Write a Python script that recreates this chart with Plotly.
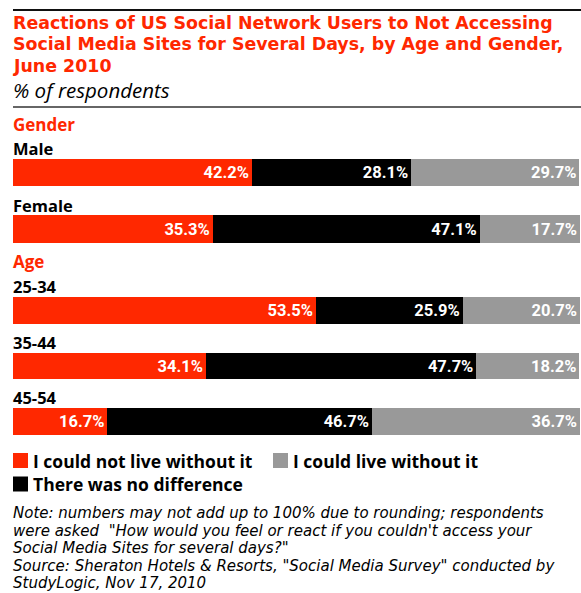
import plotly.graph_objects as go

# Survey data: share of respondents by reaction
gender_groups = ["Male", "Female"]
age_groups = ["25-34", "35-44", "45-54"]

could_not_live_gender = [42.2, 35.3]
no_difference_gender = [28.1, 47.1]
could_live_gender = [29.7, 17.7]

could_not_live_age = [53.5, 34.1, 16.7]
no_difference_age = [25.9, 47.7, 46.7]
could_live_age = [20.7, 18.2, 36.7]

series_names = ["I could not live without it", "There was no difference", "I could live without it"]

title_lines = [
    "Reactions of US Social Network Users to Not Accessing",
    "Social Media Sites for Several Days, by Age and Gender,",
    "June 2010",
]
subtitle = "% of respondents"
note_lines = [
    "Note: numbers may not add up to 100% due to rounding; respondents",
    "were asked  \"How would you feel or react if you couldn't access your",
    "Social Media Sites for several days?\"",
    "Source: Sheraton Hotels & Resorts, \"Social Media Survey\" conducted by",
    "StudyLogic, Nov 17, 2010",
]

RED = "#FF2800"
BLACK = "#000000"
GREY = "#999999"
colors = [RED, BLACK, GREY]

W, H = 581, 593
HEAD_FONT = "Open Sans"
TITLE_FONT = "DejaVu Sans"
VALUE_FONT = "Roboto"


def px_x(p):
    return p / W


def px_y(p):
    return 1 - p / H


fig = go.Figure()

panels = [
    ("x", "y", gender_groups, [could_not_live_gender, no_difference_gender, could_live_gender]),
    ("x2", "y2", age_groups, [could_not_live_age, no_difference_age, could_live_age]),
]
for xa, ya, cats, series in panels:
    for name, vals, col in zip(series_names, series, colors):
        fig.add_trace(go.Bar(
            x=vals, y=cats, orientation="h", name=name,
            marker=dict(color=col, line=dict(width=0)),
            text=[f"{v:.1f}%" for v in vals],
            textposition="inside", insidetextanchor="end", textangle=0,
            textfont=dict(family=VALUE_FONT, size=16.5, color="white", weight="bold"),
            xaxis=xa, yaxis=ya, showlegend=False, hoverinfo="skip",
        ))

x_dom = [px_x(12.7), px_x(580)]
fig.update_layout(
    width=W, height=H, autosize=False,
    margin=dict(l=0, r=0, t=0, b=0),
    paper_bgcolor="white", plot_bgcolor="white",
    barmode="stack", bargap=0.515,
    xaxis=dict(domain=x_dom, range=[0, 100.1], visible=False, fixedrange=True),
    xaxis2=dict(domain=x_dom, range=[0, 100.1], visible=False, fixedrange=True),
    yaxis=dict(domain=[px_y(257.25), px_y(144.25)], range=[1.5, -0.5], visible=False,
               type="category", categoryarray=gender_groups),
    yaxis2=dict(domain=[px_y(449.25), px_y(282.75)], range=[2.5, -0.5], visible=False,
                type="category", categoryarray=age_groups),
    showlegend=False,
)

ann = []


def text_at(txt, x, y, size, color="black", bold=False, italic=False, family=HEAD_FONT, **kw):
    ann.append(dict(
        text=txt, x=x, y=y, xref="paper", yref=kw.pop("yref", "paper"),
        xanchor="left", yanchor="middle", showarrow=False, borderpad=0,
        font=dict(family=family, size=size, color=color,
                  weight="bold" if bold else "normal",
                  style="italic" if italic else "normal"),
        **kw,
    ))


# Title block
for line, cy in zip(title_lines, [22.5, 44.2, 66]):
    text_at(line, px_x(12), px_y(cy), 17.4, color=RED, bold=True, family=TITLE_FONT)
text_at(subtitle, px_x(12), px_y(90.5), 20.5, italic=True)

# Section headers
text_at("Gender", px_x(12), px_y(124.5), 17, color=RED, bold=True)
text_at("Age", px_x(12), px_y(261), 17, color=RED, bold=True)

# Row labels above each bar
for ya, cats in [("y", gender_groups), ("y2", age_groups)]:
    for c in cats:
        text_at(c, px_x(12), c, 16.5, bold=True, yref=ya, yshift=24)

# Legend
legend_items = [
    (series_names[0], RED, 13, 460.5),
    (series_names[2], GREY, 273, 460.5),
    (series_names[1], BLACK, 13, 484),
]
shapes = []
for name, col, lx, cy in legend_items:
    shapes.append(dict(type="rect", xref="paper", yref="paper",
                       x0=px_x(lx), x1=px_x(lx + 15), y0=px_y(cy - 7.5), y1=px_y(cy + 7.5),
                       fillcolor=col, line=dict(width=0)))
    text_at(name, px_x(lx + 19), px_y(cy), 17.5, bold=True)

# Notes and source
for line, cy in zip(note_lines, [513, 530.5, 548, 565.5, 583]):
    text_at(line, px_x(12), px_y(cy), 15, italic=True, family=TITLE_FONT)

# Rules around the title
shapes.append(dict(type="line", xref="paper", yref="paper", x0=px_x(13), x1=1,
                   y0=px_y(10), y1=px_y(10), line=dict(color="#111111", width=2)))
shapes.append(dict(type="line", xref="paper", yref="paper", x0=px_x(13), x1=1,
                   y0=px_y(107), y1=px_y(107), line=dict(color="#333333", width=1.5)))

fig.update_layout(annotations=ann, shapes=shapes)
fig.write_html("out.html")
